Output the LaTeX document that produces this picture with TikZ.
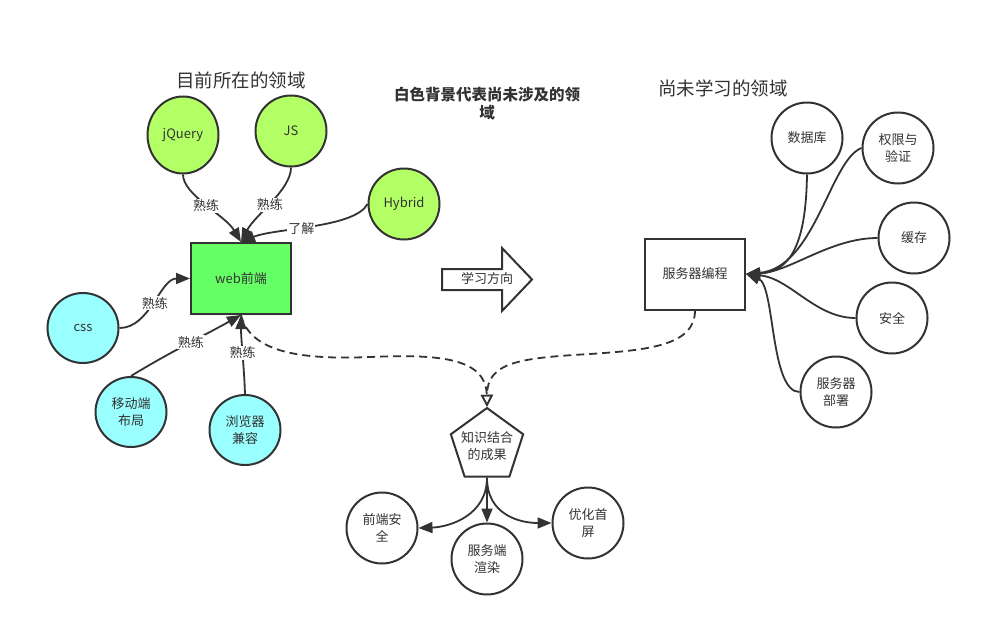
\documentclass[tikz,border=0pt]{standalone}
\usepackage{fontspec}
\setmainfont{Noto Sans CJK SC}
\usetikzlibrary{shapes.geometric,arrows.meta}
\definecolor{lc}{HTML}{333333}
\definecolor{tc}{HTML}{333333}
\definecolor{lgreen}{HTML}{B3FF66}
\definecolor{dgreen}{HTML}{66FF66}
\definecolor{lcyan}{HTML}{99FFFF}
\tikzset{
  base/.style={draw=lc, line width=2pt, text=tc, font=\fontsize{13}{17}\selectfont, align=center, inner sep=0pt},
  gnode/.style={base, ellipse, fill=lgreen, minimum width=71pt, minimum height=71pt},
  cnode/.style={base, ellipse, fill=lcyan, minimum width=71pt, minimum height=70pt},
  wnode/.style={base, ellipse, fill=white, minimum width=71pt, minimum height=71pt},
  boxnode/.style={base, rectangle, minimum width=100pt, minimum height=71pt},
  conn/.style={draw=lc, line width=1.8pt, -{Triangle[length=14pt,width=11pt]}},
  dconn/.style={draw=lc, line width=1.8pt, dash pattern=on 8pt off 5pt, -{Triangle[open,length=12pt,width=12pt,line width=1.6pt]}},
  lbl/.style={fill=white, text=tc, font=\fontsize{13}{15}\selectfont, inner sep=1pt},
  title/.style={text=tc, font=\fontsize{18.5}{22}\selectfont, inner sep=0pt},
}
\begin{document}
\begin{tikzpicture}[x=1pt,y=-1pt]
\useasboundingbox[fill=white] (0,0) rectangle (982,629);

% titles
\node[title] (t1) at (241,80) {目前所在的领域};
\node[title] (t3) at (723,88) {尚未学习的领域};
\node[text=tc, font=\fontsize{15.5}{18}\selectfont\bfseries, align=center, inner sep=0pt] (t2) at (487,104) {白色背景代表尚未涉及的领\\域};

% left group
\node[gnode, minimum height=77pt] (jq) at (183,135) {jQuery};
\node[gnode] (js) at (291,131) {JS};
\node[gnode] (hy) at (404,204) {Hybrid};
\node[boxnode, fill=dgreen] (web) at (241,278.5) {web前端};
\node[cnode] (css) at (83,328) {css};
\node[cnode] (mob) at (131,412) {移动端\\布局};
\node[cnode] (brw) at (245,430) {浏览器\\兼容};

\draw[conn] (jq.south) .. controls (183,195) and (225,215) .. node[lbl, pos=0.5] {熟练} (web.north);
\draw[conn] (js.south) .. controls (291,190) and (255,215) .. node[lbl, pos=0.52] {熟练} (web.north);
\draw[conn] (hy.west) .. controls (355,228) and (275,228) .. node[lbl, pos=0.57] {了解} (web.north);
\draw[conn] (css.east) .. controls (150,328) and (160,278.5) .. node[lbl, pos=0.5] {熟练} (web.west);
\draw[conn] (mob.north) .. controls (165,355) and (205,335) .. node[lbl, pos=0.55] {熟练} (web.south);
\draw[conn] (brw.north) .. controls (244,365) and (241,340) .. node[lbl, pos=0.5] {熟练} (web.south);

% direction arrow
\draw[draw=lc, line width=2pt, fill=white, line join=miter]
  (442,269) -- (502,269) -- (502,248) -- (532,279.5) -- (502,311) -- (502,290) -- (442,290) -- cycle;
\node[text=tc, font=\fontsize{13}{15}\selectfont, inner sep=0pt] (dir) at (487,279) {学习方向};

% right group
\node[boxnode, fill=white] (srv) at (695,274) {服务器编程};
\node[wnode] (db) at (807,138) {数据库};
\node[wnode] (auth) at (898,148) {权限与\\验证};
\node[wnode] (cache) at (914,238) {缓存};
\node[wnode] (sec) at (892,318) {安全};
\node[wnode] (dep) at (836,392) {服务器\\部署};

\draw[conn] (db.south) .. controls (806,245) and (790,272) .. (srv.east);
\draw[conn] (auth.west) .. controls (830,160) and (815,268) .. (srv.east);
\draw[conn] (cache.west) .. controls (830,238) and (790,272) .. (srv.east);
\draw[conn] (sec.west) .. controls (815,318) and (790,278) .. (srv.east);
\draw[conn] (dep.west) .. controls (770,392) and (775,285) .. (srv.east);

% result pentagon
\node[base, regular polygon, regular polygon sides=5, minimum size=76pt, fill=white,
      label={[text=tc, font=\fontsize{13}{17}\selectfont, align=center]center:知识结合\\的成果}] (pent) at (487,446) {};

\draw[dconn] (web.south) .. controls (250,352) and (300,360) .. (370,357)
   .. controls (440,354) and (486,358) .. (pent.corner 1);
\draw[dconn] (srv.south) .. controls (695,345) and (650,350) .. (590,354)
   .. controls (520,358) and (487,362) .. (pent.corner 1);

\node[wnode] (fes) at (382,528) {前端安\\全};
\node[wnode] (ssr) at (487,559) {服务端\\渲染};
\node[wnode] (opt) at (588,523) {优化首\\屏};

\draw[conn] (pent.south) .. controls (487,515) and (450,527) .. (fes.east);
\draw[conn] (pent.south) -- (ssr.north);
\draw[conn] (pent.south) .. controls (487,515) and (520,523) .. (opt.west);
\end{tikzpicture}
\end{document}
